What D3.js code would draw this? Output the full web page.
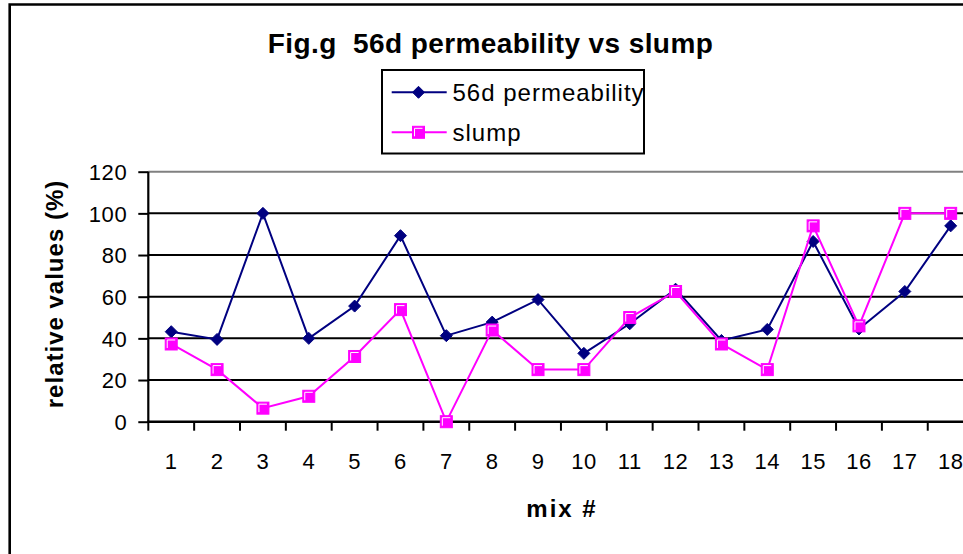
<!DOCTYPE html>
<html>
<head>
<meta charset="utf-8">
<script src="https://cdn.jsdelivr.net/npm/d3@7"></script>
<style>
  html, body { margin: 0; padding: 0; background: #fff; overflow: hidden; }
  svg { display: block; }
  text { font-family: "Liberation Sans", Arial, sans-serif; }
</style>
</head>
<body>
<svg id="chart" width="963" height="554"></svg>
<script>
// ---- data ----
const mixes = ["1","2","3","4","5","6","7","8","9","10","11","12","13","14","15","16","17","18"];
const permeability56d = [43.2, 39.5, 100, 40.0, 55.5, 89.3, 41.3, 47.8, 58.6, 32.8, 47.0, 63.6, 39.0, 44.3, 86.5, 44.5, 62.5, 94.0];
const slump = [37.3, 25.0, 6.5, 12.2, 31.3, 53.8, 0, 44.0, 25.0, 25.0, 50.0, 62.5, 37.3, 25.0, 94.0, 46.0, 100, 100];
const yTicks = [0, 20, 40, 60, 80, 100, 120];
const seriesNames = ["56d permeability", "slump"];
const titleText = "Fig.g  56d permeability vs slump";
const yTitle = "relative values (%)";
const xTitle = "mix #";

(function () {
// ---- layout ----
const svg = d3.select("#chart");
const NAVY = "#000080", MAGENTA = "#FF00FF";
const pLeft = 148.3, pRight = 973.6, pTop = 171.7, pBottom = 421.7;

const x = d3.scaleBand().domain(mixes).range([pLeft, pRight]).paddingInner(0).paddingOuter(0);
const y = d3.scaleLinear().domain([0, 120]).range([pBottom, pTop]);
const cx = d => x(d) + x.bandwidth() / 2;

// outer border
svg.append("path")
  .attr("d", `M9.7,560 V4.5 H970`)
  .attr("fill", "none").attr("stroke", "#000").attr("stroke-width", 2.6);

// title
svg.append("text")
  .attr("x", 490.5).attr("y", 53)
  .attr("text-anchor", "middle")
  .attr("font-size", 28).attr("font-weight", "bold")
  .attr("letter-spacing", 0.4)
  .style("white-space", "pre")
  .text(titleText);

// grid lines
svg.append("g").selectAll("line")
  .data(yTicks.filter(v => v > 0))
  .join("line")
  .attr("x1", pLeft).attr("x2", pRight)
  .attr("y1", d => y(d)).attr("y2", d => y(d))
  .attr("stroke", d => d === 120 ? "#808080" : "#000")
  .attr("stroke-width", 2);

// y axis
const yAxis = svg.append("g")
  .attr("transform", `translate(${pLeft},0)`)
  .call(d3.axisLeft(y).tickValues(yTicks).tickSize(10).tickPadding(11));
yAxis.select(".domain").attr("stroke", "#000").attr("stroke-width", 2.2).attr("d", `M0,${pTop}V${pBottom}`);
yAxis.selectAll(".tick line").attr("stroke", "#000").attr("stroke-width", 2);
yAxis.selectAll(".tick text")
  .attr("font-size", 22).attr("font-family", "Liberation Sans, Arial, sans-serif")
  .attr("letter-spacing", 0.6).attr("fill", "#000").attr("dy", "0.35em");

// x axis
const xAxis = svg.append("g")
  .attr("transform", `translate(0,${pBottom})`)
  .call(d3.axisBottom(x).tickSize(0).tickPadding(32));
xAxis.select(".domain").remove();
xAxis.selectAll(".tick text")
  .attr("font-size", 22).attr("font-family", "Liberation Sans, Arial, sans-serif")
  .attr("letter-spacing", 0.5).attr("fill", "#000");
svg.append("line")
  .attr("x1", pLeft - 1).attr("x2", pRight)
  .attr("y1", pBottom).attr("y2", pBottom)
  .attr("stroke", "#000").attr("stroke-width", 2.6);
const boundaries = mixes.map(d => x(d)).concat([x.range()[1]]);
svg.append("g").selectAll("line")
  .data(boundaries)
  .join("line")
  .attr("x1", d => d).attr("x2", d => d)
  .attr("y1", pBottom).attr("y2", pBottom + 9)
  .attr("stroke", "#000").attr("stroke-width", 2);

// axis titles
svg.append("text")
  .attr("transform", `translate(63,294) rotate(-90)`)
  .attr("text-anchor", "middle")
  .attr("font-size", 24).attr("font-weight", "bold")
  .attr("letter-spacing", 1)
  .text(yTitle);
svg.append("text")
  .attr("x", 562).attr("y", 517)
  .attr("text-anchor", "middle")
  .attr("font-size", 24).attr("font-weight", "bold")
  .attr("letter-spacing", 2)
  .text(xTitle);

// markers
function diamond(g, px, py, r) {
  g.append("path")
    .attr("d", `M${px},${py - r}L${px + r},${py}L${px},${py + r}L${px - r},${py}Z`)
    .attr("fill", NAVY).attr("stroke", NAVY).attr("stroke-width", 1);
}
function square(g, px, py, s) {
  const h = s / 2;
  g.append("rect")
    .attr("x", px - h).attr("y", py - h).attr("width", s).attr("height", s)
    .attr("fill", MAGENTA).attr("stroke", MAGENTA).attr("stroke-width", 1);
  g.append("path")
    .attr("d", `M${px - h + 2},${py + h - 2}V${py - h + 2}H${px + h - 2}`)
    .attr("fill", "none").attr("stroke", "#fff").attr("stroke-width", 1);
}

const line = d3.line().x((d, i) => cx(mixes[i])).y(d => y(d));

// permeability series
const gP = svg.append("g");
gP.append("path").datum(permeability56d)
  .attr("d", line).attr("fill", "none").attr("stroke", NAVY).attr("stroke-width", 2);
permeability56d.forEach((v, i) => diamond(gP, cx(mixes[i]), y(v), 6));

// slump series
const gS = svg.append("g");
gS.append("path").datum(slump)
  .attr("d", line).attr("fill", "none").attr("stroke", MAGENTA).attr("stroke-width", 2);
slump.forEach((v, i) => square(gS, cx(mixes[i]), y(v), 12));

// legend
const lg = svg.append("g");
lg.append("rect")
  .attr("x", 382).attr("y", 70).attr("width", 262).attr("height", 83.5)
  .attr("fill", "#fff").attr("stroke", "#000").attr("stroke-width", 2);
const rows = [92.3, 132.3];
lg.append("line").attr("x1", 391.7).attr("x2", 446.7).attr("y1", rows[0]).attr("y2", rows[0])
  .attr("stroke", NAVY).attr("stroke-width", 2);
diamond(lg, 418.5, rows[0], 6);
lg.append("line").attr("x1", 391.7).attr("x2", 446.7).attr("y1", rows[1]).attr("y2", rows[1])
  .attr("stroke", MAGENTA).attr("stroke-width", 2);
square(lg, 418.5, rows[1], 12);
lg.selectAll("text.leg").data(seriesNames).join("text")
  .attr("class", "leg")
  .attr("x", 452.5).attr("y", (d, i) => rows[i] + 8.5)
  .attr("font-size", 24).attr("letter-spacing", 1)
  .text(d => d);
})();
</script>
</body>
</html>
